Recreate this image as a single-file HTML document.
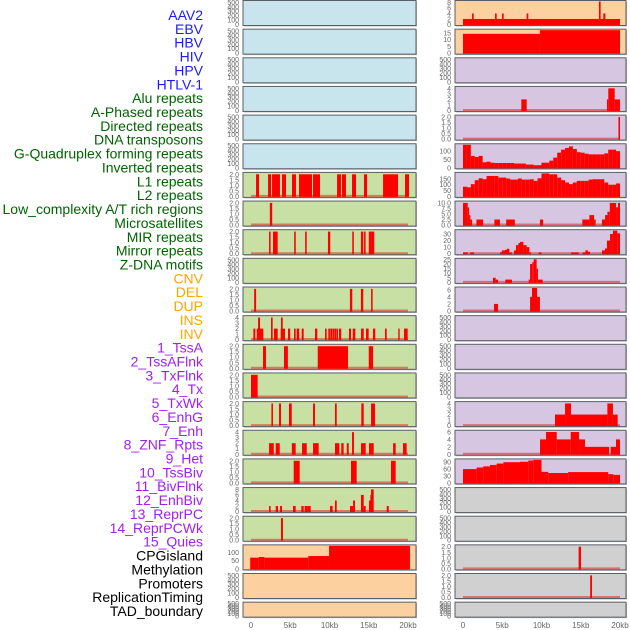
<!DOCTYPE html>
<html><head><meta charset="utf-8"><style>
html,body{margin:0;padding:0;background:#fff;width:630px;height:630px;overflow:hidden}
svg{display:block}
.lab{font-family:"Liberation Sans",sans-serif;font-size:14px}
.tk{font-family:"Liberation Sans",sans-serif;font-size:7px;fill:#666}
.xt{font-family:"Liberation Sans",sans-serif;font-size:8px;fill:#666}
</style></head><body>
<svg id="chart" width="630" height="630" xmlns="http://www.w3.org/2000/svg"></svg>
<script>
// ---------- data ----------
const trackLabels = ["AAV2","EBV","HBV","HIV","HPV","HTLV-1","Alu repeats","A-Phased repeats","Directed repeats","DNA transposons","G-Quadruplex forming repeats","Inverted repeats","L1 repeats","L2 repeats","Low_complexity A/T rich regions","Microsatellites","MIR repeats","Mirror repeats","Z-DNA motifs","CNV","DEL","DUP","INS","INV","1_TssA","2_TssAFlnk","3_TxFlnk","4_Tx","5_TxWk","6_EnhG","7_Enh","8_ZNF_Rpts","9_Het","10_TssBiv","11_BivFlnk","12_EnhBiv","13_ReprPC","14_ReprPCWk","15_Quies","CPGisland","Methylation","Promoters","ReplicationTiming","TAD_boundary"];
const labelGroups = [6,13,5,15,5];
const groupColors = ["#1a1aff","#006400","#ffa500","#a020f0","#000000"];
const xTicks = [0,5,10,15,20];
const xTickLabels = ["0","5kb","10kb","15kb","20kb"];

// segments: [startKb, endKb, value]
const left6 = [[0.64,1.02,2],[2.17,2.55,2],[2.68,3.69,2],[3.95,4.46,2],[5.22,5.73,2],[6.11,7.77,2],[7.9,8.79,2],[10.96,11.46,2],[11.59,12.1,2],[12.87,13.38,2],[14.39,14.78,2],[16.82,18.22,2],[18.22,18.73,2],[19.62,20.13,2]];
const left7 = [[2.4,2.7,2]];
const left8 = [[2.3,2.5,2],[2.8,3.4,2],[5.5,5.7,2],[6.9,7.1,2],[9.8,10.1,2],[12.9,13.1,2],[14.0,14.3,2],[14.4,14.6,2],[15.0,15.7,2]];
const left10 = [[0.4,0.65,2],[12.6,12.9,2],[14.0,14.3,2],[15.3,15.5,2]];
const left11 = [[0.3,0.55,2],[0.73,1.57,2],[0.9,1.15,4],[2.55,2.76,4],[2.93,3.4,2],[3.78,4.33,2],[3.82,4.04,4],[4.71,5.0,2],[5.48,5.69,2],[5.82,6.15,2],[6.46,6.71,2],[8.15,8.45,2],[9.43,9.64,2],[9.85,10.06,2],[10.1,10.32,2],[10.36,10.57,2],[10.61,10.83,2],[10.87,11.08,2],[11.21,11.5,2],[12.48,12.74,2],[12.96,13.29,2],[14.01,14.36,2],[14.65,14.99,2],[15.54,15.83,2],[17.07,17.29,2],[18.76,18.94,2],[19.49,19.96,2]];
const left12 = [[1.53,1.91,2],[4.2,4.7,2],[8.5,12.36,2],[15.0,15.55,2]];
const left13 = [[0,0.85,2]];
const left14 = [[2.6,2.8,2],[3.57,3.82,2],[4.84,5.19,2],[7.9,8.15,2],[10.7,10.92,2],[14.05,14.36,2],[15.29,15.8,2]];
const left15 = [[2.3,2.9,2],[3.15,3.66,2],[5.2,5.69,2],[6.5,7.1,2],[7.9,8.62,2],[10.7,11.25,2],[11.5,11.8,2],[12.2,12.45,2],[12.87,13.12,4],[14.01,14.61,2],[15.03,15.63,2],[18.1,18.43,2],[19.36,19.83,2]];
const left16 = [[5.44,6.2,2],[12.74,13.46,2],[17.83,18.43,2]];
const left17 = [[2.3,2.5,2],[3.15,3.44,2],[3.7,3.95,2],[5.35,5.69,2],[6.41,6.71,2],[6.84,7.17,2],[7.17,7.6,2],[10.06,10.4,2],[10.7,10.92,4],[12.61,13.0,2],[13.0,13.25,4],[14.01,14.36,6],[14.36,14.61,2],[15.03,15.29,4],[15.2,15.4,6],[15.29,15.63,8],[17.29,17.55,2]];
const left18 = [[3.82,4.07,2]];
const left19 = [[-0.1,1.0,68],[1.0,1.7,72],[1.7,7.3,68],[7.3,9.94,78],[9.94,20.25,140]];

const right0 = [[0,20,2],[1.15,1.36,4],[4.08,4.29,4],[4.97,5.18,4],[8.11,8.32,4],[17.32,17.53,8.5],[17.87,18.13,4]];
const right1 = [[0,9.8,14.3],[9.8,20,17]];
const right3 = [[7.43,8.11,2],[18.34,18.51,2],[18.51,19.32,4],[19.32,20,2]];
const right4 = [[19.8,20,2]];
const gquadBins = [136,136,70,64,70,32,36,30,28,28,28,28,28,25,25,25,19,19,15,15,30,30,42,60,89,107,117,126,111,92,89,83,79,79,79,79,85,107,107,98];
const l1Bins = [83,78,105,139,155,147,175,175,175,161,161,153,144,144,153,144,144,147,133,155,197,197,189,189,161,139,119,105,119,133,133,133,144,147,147,147,119,100,100,111];
const right7 = [[0,0.6,10],[0.6,0.77,8],[0.77,0.94,4.5],[0.94,1.16,2.5],[1.71,2.56,2.5],[4.0,4.7,2.5],[5.5,6.6,2.5],[9.8,10.2,2.5],[15.2,16.1,2.5],[16.1,16.7,4.5],[16.7,16.9,2.5],[17.7,18.1,2.5],[18.1,18.4,4.5],[18.4,18.7,6],[18.7,19.5,10],[19.5,19.75,8],[19.75,20,10]];
const right8 = [[0,0.6,2],[0.9,1.4,2],[4.71,4.93,2],[4.93,5.35,5],[5.35,5.6,6],[5.6,5.9,7.5],[5.9,6.24,2],[6.5,6.75,5],[6.75,7.05,13],[7.05,7.26,16],[7.26,7.69,18],[7.69,8.11,13],[8.11,8.45,10],[8.45,8.66,2],[9.64,10.0,2],[13.76,14.73,2],[15.24,15.58,2],[15.58,15.92,5],[15.92,16.18,3],[17.7,18.09,5],[18.09,18.34,8],[18.34,18.73,20],[18.73,19.1,30],[19.1,19.66,35],[19.66,20,31]];
const right9 = [[3.82,4.16,5],[4.16,4.46,3],[5.39,6.24,3],[8.37,8.54,3],[8.54,8.83,20],[8.83,9.0,22],[9.0,9.38,25],[9.38,9.55,15],[9.55,10.15,3]];
const right10 = [[3.95,4.46,2],[8.54,8.79,4],[8.79,9.43,6.5],[9.43,9.8,4]];
const right14 = [[11.72,13.0,2],[13.0,13.76,4],[13.76,18.39,2],[18.39,19.1,4],[19.1,19.7,2]];
const right15 = [[9.81,10.57,4],[10.57,11.94,6],[11.94,13.72,4],[13.72,14.78,6],[14.78,15.54,4],[15.54,18.6,2],[18.81,19.49,2],[19.49,20,4]];
const right16 = [[0,1.74,60],[1.74,2.59,67],[2.59,3.44,72],[3.44,4.29,78],[4.29,5.14,84],[5.14,7.26,90],[7.26,8.32,92],[8.32,8.96,97],[8.96,10.0,100],[10.0,10.86,48],[10.86,13.4,43],[13.4,18.5,47],[18.5,19.15,38],[19.15,20,35]];
const right19 = [[14.73,15.03,2]];
const right20 = [[16.2,16.43,2]];

// ---------- layout ----------
const svg = document.getElementById('chart');
const NS = 'http://www.w3.org/2000/svg';
function mk(tag, attrs, parent){const e=document.createElementNS(NS,tag);for(const k in attrs)e.setAttribute(k,attrs[k]);(parent||svg).appendChild(e);return e;}
const BG = {blue:'#c8e4ec',green:'#c8e0a4',orange:'#fdd09f',purple:'#d6c6e2',gray:'#d0d0d0'};
const T500=[0,100,200,300,400,500], T2=[0,0.5,1,1.5,2], T4=[0,1,2,3,4];
function binsToSegs(b){return b.map((v,i)=>[i*0.5,(i+1)*0.5,v]);}
const cols = [
 {x0:243,x1:416,z:251,rows:[
  ['blue',T500,null],['blue',T500,null],['blue',T500,null],['blue',T500,null],['blue',T500,null],['blue',T500,null],
  ['green',T2,left6],['green',T2,left7],['green',T2,left8],['green',T500,null],['green',T2,left10],['green',T4,left11],
  ['green',T2,left12],['green',T2,left13],['green',T2,left14],['green',T4,left15],['green',T2,left16],['green',[0,2,4,6,8],left17],
  ['green',T2,left18],['orange',[0,50,100],left19,140],['orange',T500,null],['orange',T500,null]]},
 {x0:455,x1:626,z:463,rows:[
  ['orange',[0,2,4,6,8],right0],['orange',[0,5,10,15],right1,17],['purple',T500,null],['purple',T4,right3],['purple',T2,right4],
  ['purple',[0,50,100],binsToSegs(gquadBins),136],['purple',[0,50,100,150],binsToSegs(l1Bins),197],['purple',[0,2.5,5,7.5,10],right7],
  ['purple',[0,10,20,30],right8,35],['purple',[0,5,10,15,20,25],right9,25],['purple',[0,2,4,6],right10,6.5],
  ['purple',T500,null],['purple',T500,null],['purple',T500,null],['purple',T4,right14],['purple',[0,2,4,6],right15,6.2],
  ['purple',[0,30,60,90],right16,100],['gray',T500,null],['gray',T500,null],['gray',T2,right19],['gray',T2,right20],['gray',T500,null]]}
];
const KBPX = 7.85;
cols.forEach((c,ci)=>{
 const xs = kb => c.z + kb*KBPX;
 c.rows.forEach((r,ri)=>{
  const top = 0.5 + ri*28.65;
  const h = ri===21 ? 15 : 25;
  const g = mk('g',{});
  
  
  mk('rect',{x:c.x0+1,y:top+1,width:c.x1-c.x0,height:h,fill:'#b8b8b8'},g);
  mk('rect',{x:c.x0,y:top,width:c.x1-c.x0,height:h,fill:BG[r[0]],stroke:'#5a5f66','stroke-width':1},g);
  const ticks = r[1];
  const tmax = ticks[ticks.length-1];
  const ymax = r[3] || tmax*1.04;
  const yb = top+h-1, ph = h-2;
  const ys = v => yb - Math.min(v,ymax)/ymax*ph;
  ticks.forEach(v=>{
   const t = mk('text',{x:c.x0-4,y:ys(v)+2.5,'text-anchor':'end',class:'tk'},g);
   t.textContent = (ticks===T2||ticks[1]===2.5)? v.toFixed(1): String(v);
  });
  if(r[2]){
   mk('line',{x1:xs(0),x2:xs(20),y1:yb-0.5,y2:yb-0.5,stroke:'rgba(220,0,0,0.45)','stroke-width':2},g);
   r[2].forEach(s=>{
    const b = mk('rect',{x:xs(s[0]),y:ys(s[2]),width:Math.max(0.8,(s[1]-s[0])*KBPX),height:yb-ys(s[2])+0.5,fill:'#ff0000'},g);
    
    
   });
  }
 });
 xTicks.forEach((v,i)=>{
  const t = mk('text',{x:xs(v),y:628,'text-anchor':'middle',class:'xt'});
  
  
  t.textContent = xTickLabels[i];
 });
});
// labels
let gi=0, cnt=0;
trackLabels.forEach((l,i)=>{
 if(cnt>=labelGroups[gi]){gi++;cnt=0;}
 cnt++;
 const t = mk('text',{x:203,y:20+i*13.86,'text-anchor':'end',class:'lab',fill:groupColors[gi]});
 
 
 t.textContent = l;
});
</script>
</body></html>
